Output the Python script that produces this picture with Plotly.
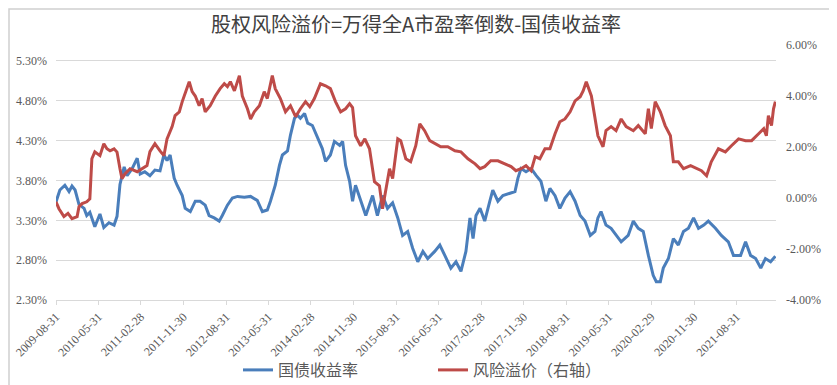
import plotly.graph_objects as go

# ---------------- data ----------------
bond_dates = ["2009-08-31","2009-09-25","2009-10-27","2009-11-23","2009-12-12","2010-01-01","2010-01-26","2010-02-28","2010-03-17","2010-04-06",
"2010-05-08","2010-06-10","2010-07-05","2010-08-07","2010-09-09","2010-09-28","2010-10-17","2010-11-13","2010-12-02","2011-01-04",
"2011-02-05","2011-02-24","2011-03-26","2011-04-28","2011-05-30","2011-07-02","2011-07-27","2011-08-16","2011-09-05","2011-10-01",
"2011-10-20","2011-11-22","2011-12-11","2012-01-13","2012-02-14","2012-03-16","2012-04-18","2012-05-13","2012-06-15","2012-07-17",
"2012-08-06","2012-09-08","2012-10-10","2012-11-12","2012-12-26","2013-02-04","2013-03-19","2013-04-21","2013-05-23","2013-06-12",
"2013-07-13","2013-08-09","2013-08-28","2013-09-30","2013-10-19","2013-11-14","2013-12-03","2013-12-22","2014-01-18","2014-02-07",
"2014-03-09","2014-04-11","2014-05-12","2014-06-02","2014-07-03","2014-07-29","2014-09-01","2014-09-20","2014-10-09","2014-11-04",
"2014-11-23","2014-12-12","2015-01-14","2015-02-16","2015-04-01","2015-05-02","2015-06-04","2015-07-06","2015-08-08","2015-09-10",
"2015-10-11","2015-11-13","2015-12-15","2016-01-17","2016-02-19","2016-03-21","2016-05-05","2016-06-07","2016-07-09","2016-08-17",
"2016-09-19","2016-10-21","2016-11-22","2016-12-18","2017-01-07","2017-01-26","2017-02-21","2017-03-23","2017-04-25","2017-05-14",
"2017-06-16","2017-07-18","2017-09-02","2017-10-04","2017-10-23","2017-11-12","2017-12-14","2018-01-16","2018-02-18","2018-03-20",
"2018-04-21","2018-05-17","2018-06-19","2018-07-20","2018-08-22","2018-09-24","2018-10-26","2018-11-28","2018-12-29","2019-02-01",
"2019-03-03","2019-03-22","2019-04-11","2019-05-13","2019-06-15","2019-07-17","2019-08-19","2019-10-03","2019-11-05","2019-12-07",
"2020-01-08","2020-02-10","2020-03-12","2020-04-01","2020-04-27","2020-05-16","2020-06-18","2020-07-20","2020-08-21","2020-09-23",
"2020-10-25","2020-11-27","2020-12-29","2021-02-01","2021-03-02","2021-04-17","2021-05-25","2021-07-09","2021-08-11","2021-09-26",
"2021-10-28","2021-11-29","2022-01-01","2022-02-03","2022-03-05","2022-04-07","2022-05-08"]
bond_yield = [3.53,3.68,3.74,3.66,3.73,3.68,3.50,3.45,3.36,3.40,
3.22,3.38,3.21,3.27,3.24,3.35,3.75,3.97,3.86,3.95,
4.08,3.88,3.91,3.86,3.93,3.92,4.12,4.05,4.12,3.83,
3.74,3.61,3.45,3.41,3.54,3.54,3.49,3.36,3.33,3.29,
3.36,3.49,3.58,3.60,3.59,3.60,3.55,3.41,3.43,3.54,
3.74,3.99,4.12,4.17,4.37,4.58,4.62,4.58,4.64,4.52,
4.49,4.33,4.20,4.04,4.12,4.29,4.24,4.29,3.99,3.79,
3.54,3.74,3.54,3.36,3.61,3.36,3.61,3.45,3.52,3.33,
3.11,3.16,2.95,2.78,2.91,2.82,2.91,2.99,2.86,2.70,
2.78,2.66,2.91,3.33,3.07,3.36,3.45,3.29,3.54,3.68,
3.54,3.61,3.64,3.66,3.83,3.95,3.91,3.95,3.86,3.79,
3.54,3.70,3.61,3.45,3.58,3.66,3.54,3.36,3.29,3.11,
3.16,3.33,3.41,3.24,3.20,3.11,3.03,3.11,3.29,3.20,
3.16,2.86,2.61,2.53,2.53,2.70,2.82,3.07,2.99,3.16,
3.20,3.33,3.20,3.24,3.29,3.20,3.11,3.03,2.86,2.86,
3.03,2.86,2.82,2.70,2.82,2.78,2.85]

erp_dates = ["2009-08-31","2009-09-19","2009-10-21","2009-11-16","2009-12-12","2010-01-14","2010-01-26","2010-02-15","2010-03-17","2010-04-06",
"2010-04-19","2010-05-08","2010-06-10","2010-07-05","2010-07-25","2010-08-14","2010-09-09","2010-09-28","2010-10-17","2010-10-30",
"2010-11-19","2010-12-21","2011-02-05","2011-03-07","2011-04-09","2011-04-28","2011-05-30","2011-07-02","2011-07-27","2011-08-16",
"2011-09-18","2011-10-07","2011-11-03","2011-11-22","2011-12-24","2012-01-06","2012-01-25","2012-02-14","2012-03-10","2012-03-29",
"2012-04-18","2012-05-20","2012-06-22","2012-07-23","2012-08-19","2012-09-08","2012-09-27","2012-10-23","2012-11-24","2012-12-13",
"2013-01-15","2013-02-04","2013-02-28","2013-04-02","2013-05-03","2013-05-23","2013-06-24","2013-07-13","2013-08-15","2013-09-17",
"2013-10-19","2013-11-21","2013-12-22","2014-01-24","2014-02-20","2014-03-22","2014-04-30","2014-06-02","2014-07-03","2014-08-05",
"2014-09-07","2014-10-09","2014-11-04","2014-11-23","2014-12-12","2015-01-14","2015-02-10","2015-03-12","2015-04-13","2015-05-15",
"2015-06-04","2015-06-23","2015-07-19","2015-08-08","2015-09-10","2015-09-29","2015-11-01","2015-12-02","2016-01-04","2016-01-30",
"2016-03-01","2016-04-03","2016-05-11","2016-06-13","2016-07-28","2016-09-12","2016-10-21","2016-12-05","2017-01-20","2017-02-21",
"2017-03-23","2017-05-01","2017-06-16","2017-08-01","2017-09-09","2017-10-10","2017-11-12","2017-12-14","2018-01-16","2018-02-11",
"2018-03-13","2018-04-15","2018-05-17","2018-06-19","2018-07-20","2018-08-22","2018-09-24","2018-10-26","2018-11-28","2018-12-17",
"2019-01-06","2019-02-08","2019-03-03","2019-03-22","2019-04-24","2019-05-13","2019-06-15","2019-07-17","2019-08-19","2019-09-20",
"2019-11-05","2019-12-07","2020-01-21","2020-02-10","2020-02-29","2020-03-25","2020-04-27","2020-05-28","2020-07-01","2020-07-20",
"2020-08-21","2020-09-23","2020-11-08","2020-12-16","2021-01-17","2021-02-19","2021-03-21","2021-05-06","2021-06-20","2021-07-29",
"2021-09-13","2021-10-28","2021-12-06","2022-01-20","2022-02-22","2022-03-11","2022-03-24","2022-04-13","2022-04-26","2022-05-08"]
erp_value = [-0.15,-0.42,-0.73,-0.60,-0.81,-0.73,-0.34,-0.22,-0.15,-0.03,
1.54,1.81,1.66,2.13,1.93,1.85,1.93,1.80,1.15,0.76,
0.95,1.15,1.03,1.15,1.27,1.82,2.13,1.85,1.66,2.32,
2.80,3.23,3.38,3.78,4.40,4.56,4.17,4.00,3.62,3.90,
3.38,3.62,4.00,4.29,4.48,4.37,4.56,4.20,4.80,4.00,
3.50,3.10,3.38,3.62,4.17,3.90,4.80,4.29,3.90,3.38,
3.62,3.19,3.50,3.78,3.58,3.90,4.48,4.40,4.29,3.78,
3.38,3.50,3.70,3.55,2.44,2.05,2.32,1.93,0.64,0.48,
-0.42,0.25,1.15,0.76,2.32,2.25,1.54,1.42,2.05,2.91,
2.64,2.25,2.13,2.01,2.01,1.85,1.81,1.54,1.34,1.15,
1.23,1.46,1.46,1.34,1.23,1.07,1.15,1.27,1.07,1.62,
1.54,1.93,1.93,2.52,2.99,3.10,3.38,3.81,3.97,4.20,
4.56,4.00,3.23,2.44,2.01,2.64,2.80,2.64,3.10,2.80,
2.64,2.84,2.52,3.50,2.72,3.78,3.38,2.84,2.44,1.42,
1.42,1.15,1.27,1.15,1.07,0.87,1.42,1.93,1.81,2.05,
2.32,2.25,2.25,2.52,2.72,2.44,3.23,2.84,3.50,3.78]

x_tick_labels = ["2009-08-31","2010-05-31","2011-02-28","2011-11-30","2012-08-31","2013-05-31",
                 "2014-02-28","2014-11-30","2015-08-31","2016-05-31","2017-02-28","2017-11-30",
                 "2018-08-31","2019-05-31","2020-02-29","2020-11-30","2021-08-31"]
left_ticks = [2.3, 2.8, 3.3, 3.8, 4.3, 4.8, 5.3]
right_ticks = [-4, -2, 0, 2, 4, 6]

title_text = "股权风险溢价=万得全A市盈率倒数-国债收益率"
name_bond = "国债收益率"
name_erp = "风险溢价（右轴）"

# ---------------- figure ----------------
W, H = 837, 385
ML, MR, MT, MB = 48, 69, 37, 93
PW, PH = W - ML - MR, H - MT - MB

serif = "Liberation Serif"
cjk = "Noto Sans CJK SC"
grey = "#595959"
grid = "#D9D9D9"

fig = go.Figure()
fig.add_trace(go.Scatter(x=bond_dates, y=bond_yield, name=name_bond, mode="lines",
                         line=dict(color="#4A7EBB", width=3), legendwidth=150, yaxis="y"))
fig.add_trace(go.Scatter(x=erp_dates, y=erp_value, name=name_erp, mode="lines",
                         line=dict(color="#BE4B48", width=3), yaxis="y2"))

fig.update_layout(
    width=W, height=H,
    margin=dict(l=ML, r=MR, t=MT, b=MB, pad=0, autoexpand=False),
    paper_bgcolor="white", plot_bgcolor="white",
    title=dict(text=title_text, x=0.5, xref="paper", xanchor="center",
               y=1 - 17 / H, yref="container", yanchor="middle",
               font=dict(family=cjk, size=20, color="#404040")),
    xaxis=dict(type="date", range=["2009-08-31", "2022-05-12"], automargin=False,
               tickvals=x_tick_labels, ticktext=x_tick_labels, tickangle=-45,
               tickfont=dict(family=serif, size=12, color=grey),
               showgrid=False, showline=True, linecolor=grid, linewidth=1,
               ticks="outside", ticklen=4, tickcolor=grid, zeroline=False),
    yaxis=dict(range=[2.3, 5.5], tickvals=left_ticks, automargin=False,
               ticktext=[f"{v:.2f}%" for v in left_ticks],
               tickfont=dict(family=serif, size=12, color=grey),
               showgrid=True, gridcolor=grid, gridwidth=1, zeroline=False,
               showline=False, ticks="", ticklabelstandoff=8),
    yaxis2=dict(range=[-4, 6], tickvals=right_ticks, automargin=False,
                ticktext=[f"{v:.2f}%" for v in right_ticks],
                overlaying="y", side="right",
                tickfont=dict(family=serif, size=12, color=grey),
                showgrid=False, zeroline=False, showline=False, ticks="",
                ticklabelstandoff=9),
    legend=dict(orientation="h", x=0.509, xanchor="center",
                yref="container", y=(H - 362) / H, yanchor="middle",
                font=dict(family=cjk, size=16, color=grey),
                bgcolor="rgba(0,0,0,0)"),
    showlegend=True,
)

# outer chart border
fig.add_shape(type="rect", xref="paper", yref="paper",
              x0=(1 - ML) / PW, x1=(W - 1 - ML) / PW,
              y0=(PH - (H - 1 - MT)) / PH, y1=(PH - (1 - MT)) / PH,
              line=dict(color="#D0D0D0", width=1.5), fillcolor="rgba(0,0,0,0)", layer="below")

fig.write_html("out.html")
